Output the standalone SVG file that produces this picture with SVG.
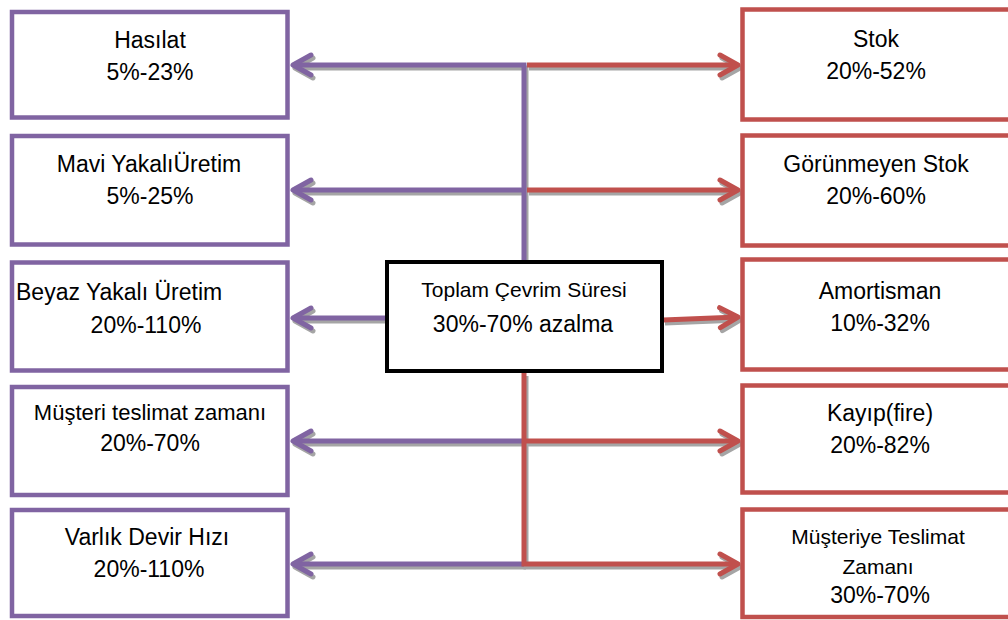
<svg xmlns="http://www.w3.org/2000/svg" width="1008" height="620" viewBox="0 0 1008 620">
  <defs>
    <style>
      .t { font-family: "Liberation Sans", Arial, sans-serif; font-size: 23px; fill: #000; text-anchor: middle; }
      .s { font-size: 21px; }
      .pbox { fill: #fff; stroke: #8064A2; stroke-width: 4.5; }
      .rbox { fill: #fff; stroke: #C0504D; stroke-width: 4.5; }
      .cbox { fill: #fff; stroke: #000; stroke-width: 4; }
      .lp { fill: none; stroke: #8064A2; stroke-width: 5; }
      .lr { fill: none; stroke: #C0504D; stroke-width: 5; }
      .sh { fill: none; stroke: #A5A5A5; stroke-width: 5; }
    </style>
    <marker id="ap" markerUnits="userSpaceOnUse" orient="auto" viewBox="-24 -14 28 28" markerWidth="28" markerHeight="28" refX="0" refY="0">
      <path d="M-18,-10 L0,0 L-18,10" fill="none" stroke="#8064A2" stroke-width="5" stroke-linecap="round" stroke-linejoin="round"/>
    </marker>
    <marker id="ar" markerUnits="userSpaceOnUse" orient="auto" viewBox="-24 -14 28 28" markerWidth="28" markerHeight="28" refX="0" refY="0">
      <path d="M-18,-10 L0,0 L-18,10" fill="none" stroke="#C0504D" stroke-width="5" stroke-linecap="round" stroke-linejoin="round"/>
    </marker>
    <marker id="ag" markerUnits="userSpaceOnUse" orient="auto" viewBox="-24 -14 28 28" markerWidth="28" markerHeight="28" refX="0" refY="0">
      <path d="M-18,-10 L0,0 L-18,10" fill="none" stroke="#A5A5A5" stroke-width="5" stroke-linecap="round" stroke-linejoin="round"/>
    </marker>
  </defs>

  <g id="connectors">
    <g id="shadows" transform="translate(2,3)">
      <path class="sh" d="M527,65 L738,65" marker-end="url(#ag)"/>
      <path class="sh" d="M527,190 L738,190" marker-end="url(#ag)"/>
      <path class="sh" d="M663,320 L738,317" marker-end="url(#ag)"/>
      <path class="sh" d="M524,441 L738,441" marker-end="url(#ag)"/>
      <path class="sh" d="M524,373 L524,564 L738,564" marker-end="url(#ag)"/>
      <path class="sh" d="M524,260 L524,65 L293,65" marker-end="url(#ag)"/>
      <path class="sh" d="M524,190 L293,190" marker-end="url(#ag)"/>
      <path class="sh" d="M385,318 L293,318" marker-end="url(#ag)"/>
      <path class="sh" d="M524,441 L293,441" marker-end="url(#ag)"/>
      <path class="sh" d="M524,564 L293,564" marker-end="url(#ag)"/>
    </g>
    <path class="lr" d="M527,65 L738,65" marker-end="url(#ar)"/>
    <path class="lr" d="M527,190 L738,190" marker-end="url(#ar)"/>
    <path class="lp" d="M524,260 L524,65 L293,65" marker-end="url(#ap)"/>
    <path class="lp" d="M524,190 L293,190" marker-end="url(#ap)"/>
    <path class="lp" d="M385,318 L293,318" marker-end="url(#ap)"/>
    <path class="lr" d="M663,320 L738,317" marker-end="url(#ar)"/>
    <path class="lp" d="M524,441 L293,441" marker-end="url(#ap)"/>
    <path class="lp" d="M524,564 L293,564" marker-end="url(#ap)"/>
    <path class="lr" d="M524,441 L738,441" marker-end="url(#ar)"/>
    <path class="lr" d="M524,373 L524,564 L738,564" marker-end="url(#ar)"/>
  </g>

  <g id="n-hasilat">
    <rect class="pbox" x="12" y="12" width="275.5" height="105.5"/>
    <text class="t" x="150" y="48">Hasılat</text>
    <text class="t" x="150" y="80">5%-23%</text>
  </g>
  <g id="n-mavi">
    <rect class="pbox" x="12" y="136" width="275.5" height="108.5"/>
    <text class="t" x="149" y="172">Mavi YakalıÜretim</text>
    <text class="t" x="150" y="204">5%-25%</text>
  </g>
  <g id="n-beyaz">
    <rect class="pbox" x="12" y="262.5" width="275.5" height="108"/>
    <text class="t" x="16" y="300" style="text-anchor:start">Beyaz Yakalı Üretim</text>
    <text class="t" x="146" y="333">20%-110%</text>
  </g>
  <g id="n-musteri">
    <rect class="pbox" x="12" y="387" width="275.5" height="108"/>
    <text class="t" x="150" y="420" style="font-size:22px">Müşteri teslimat zamanı</text>
    <text class="t" x="150" y="451">20%-70%</text>
  </g>
  <g id="n-varlik">
    <rect class="pbox" x="12" y="510" width="275.5" height="106"/>
    <text class="t" x="147" y="545">Varlık Devir Hızı</text>
    <text class="t" x="149" y="577">20%-110%</text>
  </g>

  <g id="n-stok">
    <rect class="rbox" x="742.5" y="9.5" width="280" height="110"/>
    <text class="t" x="876" y="47">Stok</text>
    <text class="t" x="876" y="79">20%-52%</text>
  </g>
  <g id="n-gorunmeyen">
    <rect class="rbox" x="742.5" y="135.5" width="280" height="110"/>
    <text class="t" x="876" y="172">Görünmeyen Stok</text>
    <text class="t" x="876" y="204">20%-60%</text>
  </g>
  <g id="n-amortisman">
    <rect class="rbox" x="742.5" y="259.5" width="280" height="110"/>
    <text class="t" x="880" y="299">Amortisman</text>
    <text class="t" x="880" y="331">10%-32%</text>
  </g>
  <g id="n-kayip">
    <rect class="rbox" x="742.5" y="385.5" width="280" height="107"/>
    <text class="t" x="880" y="421">Kayıp(fire)</text>
    <text class="t" x="880" y="453">20%-82%</text>
  </g>
  <g id="n-teslimat">
    <rect class="rbox" x="742.5" y="509.5" width="280" height="107.5"/>
    <text class="t s" x="878" y="544">Müşteriye Teslimat</text>
    <text class="t s" x="878" y="574">Zamanı</text>
    <text class="t" x="880" y="603">30%-70%</text>
  </g>

  <g id="n-center">
    <rect class="cbox" x="387" y="262" width="275" height="109"/>
    <text class="t s" x="524" y="297">Toplam Çevrim Süresi</text>
    <text class="t" x="523" y="332">30%-70% azalma</text>
  </g>
</svg>
